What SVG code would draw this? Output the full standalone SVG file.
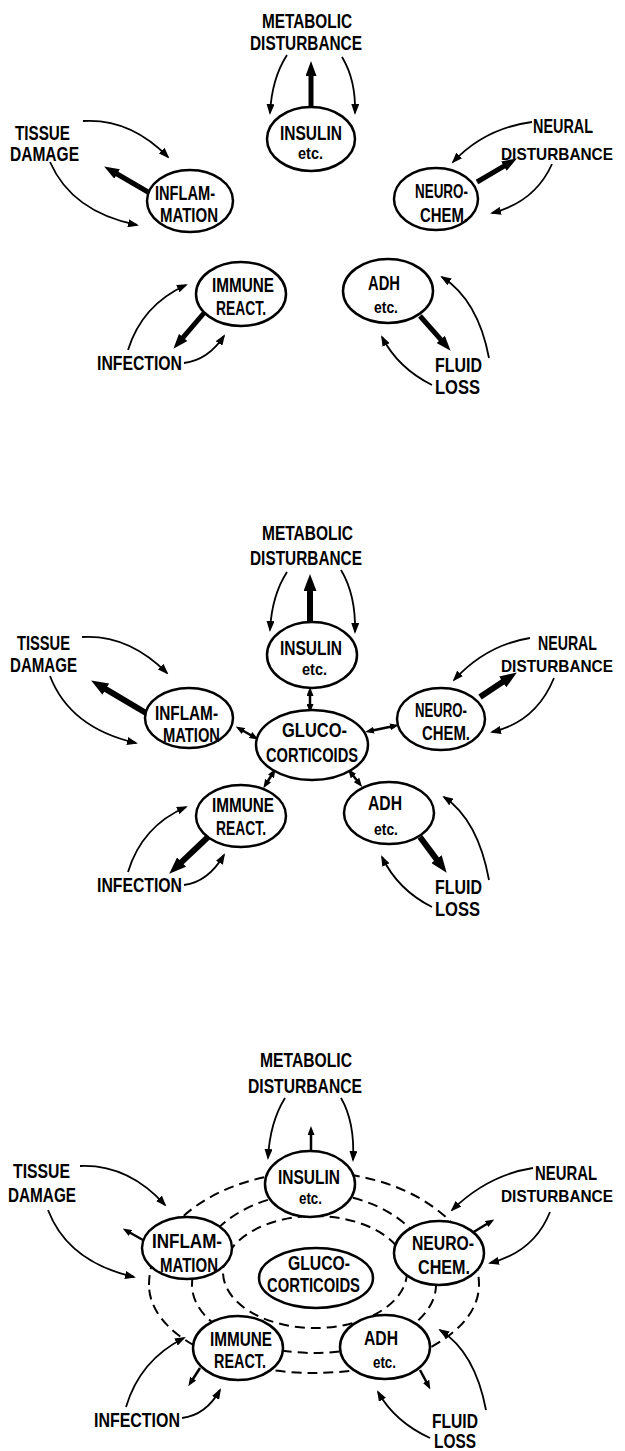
<svg xmlns="http://www.w3.org/2000/svg" width="625" height="1451" viewBox="0 0 625 1451">
<style>
.t{font-family:"Liberation Sans",Arial,sans-serif;font-weight:bold;font-size:20px;fill:#000}
.s{font-family:"Liberation Sans",Arial,sans-serif;font-weight:bold;font-size:16px;fill:#000}
.re{text-anchor:end}
.nr{font-size:17px}
.n{fill:#fff;stroke:#000;stroke-width:2.5}
.a{fill:none;stroke:#000;stroke-width:1.8;marker-end:url(#ah)}
.k{fill:none;stroke:#000;stroke-width:5;marker-end:url(#big)}
.k2{fill:none;stroke:#000;stroke-width:6;marker-end:url(#big2)}
.d{fill:none;stroke:#000;stroke-width:2.5;marker-start:url(#sm);marker-end:url(#sm)}
.e{fill:none;stroke:#000;stroke-width:2.5;marker-end:url(#sm)}
.r{fill:none;stroke:#000;stroke-width:2;stroke-dasharray:10 6}
</style>
<defs>
<marker id="ah" viewBox="0 0 11 8" markerWidth="11" markerHeight="8" refX="9" refY="4" orient="auto" markerUnits="userSpaceOnUse"><path d="M0,0 L11,4 L0,8 z"/></marker>
<marker id="big" viewBox="0 0 15 11" markerWidth="15" markerHeight="11" refX="3" refY="5.5" orient="auto" markerUnits="userSpaceOnUse"><path d="M0,0 L15,5.5 L0,11 z"/></marker>
<marker id="big2" viewBox="0 0 17 13" markerWidth="17" markerHeight="13" refX="3" refY="6.5" orient="auto" markerUnits="userSpaceOnUse"><path d="M0,0 L17,6.5 L0,13 z"/></marker>
<marker id="sm" viewBox="0 0 9 7" markerWidth="9" markerHeight="7" refX="4" refY="3.5" orient="auto-start-reverse" markerUnits="userSpaceOnUse"><path d="M0,0 L9,3.5 L0,7 z"/></marker>
</defs>

<!-- ===== Panel 1 ===== -->
<g id="p1-connectors">
<path class="a" d="M287,55 Q272,78 270,113"/>
<path class="a" d="M342,57 Q356,80 355,113"/>
<path class="a" d="M83,121 Q130,118 168,157"/>
<path class="a" d="M50,162 Q72,212 137,225"/>
<path class="a" d="M532,122 Q485,128 453,162"/>
<path class="a" d="M552,164 Q535,202 492,213"/>
<path class="a" d="M128,350 Q142,305 186,285"/>
<path class="a" d="M184,363 Q208,360 224,336"/>
<path class="a" d="M489,358 Q478,300 442,277"/>
<path class="a" d="M432,385 Q398,368 382,337"/>
<path class="k" d="M311,107 L311,73"/>
<path class="k" d="M148,192 L114.5,172.5"/>
<path class="k" d="M477,182 L506.5,164.6"/>
<path class="k" d="M204,313 L181.2,339.7"/>
<path class="k" d="M420,316 L442.7,341.7"/>
</g>
<g id="p1-metabolic"><text class="t" x="262" y="28" textLength="90" lengthAdjust="spacingAndGlyphs">METABOLIC</text><text class="t" x="250" y="50" textLength="112" lengthAdjust="spacingAndGlyphs">DISTURBANCE</text></g>
<g id="p1-tissue"><text class="t" x="15" y="140" textLength="55" lengthAdjust="spacingAndGlyphs">TISSUE</text><text class="t" x="10" y="161" textLength="69" lengthAdjust="spacingAndGlyphs">DAMAGE</text></g>
<g id="p1-neural"><text class="t re" x="593" y="133" textLength="60" lengthAdjust="spacingAndGlyphs">NEURAL</text><text class="t re nr" x="613" y="160" textLength="112" lengthAdjust="spacingAndGlyphs">DISTURBANCE</text></g>
<g id="p1-infection"><text class="t" x="97" y="370" textLength="85" lengthAdjust="spacingAndGlyphs">INFECTION</text></g>
<g id="p1-fluid"><text class="t" x="435" y="372" textLength="47" lengthAdjust="spacingAndGlyphs">FLUID</text><text class="t" x="435" y="394" textLength="45" lengthAdjust="spacingAndGlyphs">LOSS</text></g>
<g id="p1-insulin"><ellipse class="n" cx="311" cy="139" rx="44" ry="32"/><text class="t" x="280" y="140" textLength="62" lengthAdjust="spacingAndGlyphs">INSULIN</text><text class="s" x="298" y="159" textLength="25" lengthAdjust="spacingAndGlyphs">etc.</text></g>
<g id="p1-inflammation"><ellipse class="n" cx="190" cy="201" rx="43" ry="31"/><text class="t" x="155" y="200" textLength="60" lengthAdjust="spacingAndGlyphs">INFLAM-</text><text class="t" x="160" y="222" textLength="58" lengthAdjust="spacingAndGlyphs">MATION</text></g>
<g id="p1-neurochem"><ellipse class="n" cx="436" cy="199" rx="42" ry="31"/><text class="t" x="415" y="198" textLength="53" lengthAdjust="spacingAndGlyphs">NEURO-</text><text class="t" x="420" y="222" textLength="48" lengthAdjust="spacingAndGlyphs">CHEM.</text></g>
<g id="p1-immune"><ellipse class="n" cx="241" cy="294" rx="45" ry="32"/><text class="t" x="212" y="292" textLength="62" lengthAdjust="spacingAndGlyphs">IMMUNE</text><text class="t" x="216" y="315" textLength="50" lengthAdjust="spacingAndGlyphs">REACT.</text></g>
<g id="p1-adh"><ellipse class="n" cx="388" cy="291" rx="45" ry="32"/><text class="t" x="368" y="290" textLength="32" lengthAdjust="spacingAndGlyphs">ADH</text><text class="s" x="374" y="313" textLength="24" lengthAdjust="spacingAndGlyphs">etc.</text></g>

<!-- ===== Panel 2 ===== -->
<g id="p2-connectors">
<path class="a" d="M287,572 Q272,595 270,630"/>
<path class="a" d="M341,570 Q356,595 355,632"/>
<path class="a" d="M82,637 Q128,634 167,673"/>
<path class="a" d="M50,676 Q70,728 136,743"/>
<path class="a" d="M530,638 Q486,645 454,680"/>
<path class="a" d="M554,678 Q536,722 492,732"/>
<path class="a" d="M128,872 Q142,826 186,807"/>
<path class="a" d="M184,885 Q208,882 224,855"/>
<path class="a" d="M489,880 Q478,820 444,797"/>
<path class="a" d="M432,907 Q398,890 382,857"/>
<path class="k2" d="M310,622 L310,588"/>
<path class="k2" d="M146,713 L103.2,687.6"/>
<path class="k2" d="M480,697 L505.2,680.2"/>
<path class="k2" d="M208,837 L179.4,864.1"/>
<path class="k2" d="M420,837 L438.3,861.6"/>
<path class="d" d="M310,692 L310,708"/>
<path class="d" d="M254,737 L240,729"/>
<path class="d" d="M370,731 L394,726"/>
<path class="d" d="M273,773 L266,784"/>
<path class="d" d="M351,773 L359,783"/>
</g>
<g id="p2-metabolic"><text class="t" x="262" y="540" textLength="91" lengthAdjust="spacingAndGlyphs">METABOLIC</text><text class="t" x="250" y="565" textLength="112" lengthAdjust="spacingAndGlyphs">DISTURBANCE</text></g>
<g id="p2-tissue"><text class="t" x="17" y="650" textLength="53" lengthAdjust="spacingAndGlyphs">TISSUE</text><text class="t" x="10" y="672" textLength="67" lengthAdjust="spacingAndGlyphs">DAMAGE</text></g>
<g id="p2-neural"><text class="t re" x="597" y="650" textLength="59" lengthAdjust="spacingAndGlyphs">NEURAL</text><text class="t re nr" x="613" y="672" textLength="112" lengthAdjust="spacingAndGlyphs">DISTURBANCE</text></g>
<g id="p2-infection"><text class="t" x="97" y="892" textLength="85" lengthAdjust="spacingAndGlyphs">INFECTION</text></g>
<g id="p2-fluid"><text class="t" x="435" y="894" textLength="47" lengthAdjust="spacingAndGlyphs">FLUID</text><text class="t" x="435" y="916" textLength="45" lengthAdjust="spacingAndGlyphs">LOSS</text></g>
<g id="p2-insulin"><ellipse class="n" cx="312" cy="655" rx="45" ry="33"/><text class="t" x="280" y="655" textLength="62" lengthAdjust="spacingAndGlyphs">INSULIN</text><text class="s" x="302" y="675" textLength="25" lengthAdjust="spacingAndGlyphs">etc.</text></g>
<g id="p2-inflammation"><ellipse class="n" cx="189" cy="718" rx="44" ry="30"/><text class="t" x="155" y="720" textLength="63" lengthAdjust="spacingAndGlyphs">INFLAM-</text><text class="t" x="163" y="742" textLength="57" lengthAdjust="spacingAndGlyphs">MATION</text></g>
<g id="p2-neurochem"><ellipse class="n" cx="441" cy="719" rx="44" ry="31"/><text class="t" x="415" y="717" textLength="52" lengthAdjust="spacingAndGlyphs">NEURO-</text><text class="t" x="422" y="740" textLength="48" lengthAdjust="spacingAndGlyphs">CHEM.</text></g>
<g id="p2-gluco"><ellipse class="n" cx="312" cy="745" rx="56" ry="35"/><text class="t" x="282" y="737" textLength="65" lengthAdjust="spacingAndGlyphs">GLUCO-</text><text class="t" x="266" y="762" textLength="92" lengthAdjust="spacingAndGlyphs">CORTICOIDS</text></g>
<g id="p2-immune"><ellipse class="n" cx="241" cy="816" rx="45" ry="31"/><text class="t" x="212" y="812" textLength="62" lengthAdjust="spacingAndGlyphs">IMMUNE</text><text class="t" x="216" y="835" textLength="50" lengthAdjust="spacingAndGlyphs">REACT.</text></g>
<g id="p2-adh"><ellipse class="n" cx="389" cy="813" rx="45" ry="31"/><text class="t" x="368" y="810" textLength="34" lengthAdjust="spacingAndGlyphs">ADH</text><text class="s" x="374" y="835" textLength="24" lengthAdjust="spacingAndGlyphs">etc.</text></g>

<!-- ===== Panel 3 ===== -->
<g id="p3-rings">
<path class="r" d="M149,1285 A165,113 0 0 1 479,1285 A165,88 0 0 1 149,1285 Z"/>
<path class="r" d="M192,1285 A122,92 0 0 1 436,1285 A122,68 0 0 1 192,1285 Z"/>
<ellipse class="r" cx="315" cy="1272" rx="92" ry="56"/>
</g>
<g id="p3-connectors">
<path class="a" d="M285,1098 Q270,1122 268,1158"/>
<path class="a" d="M341,1098 Q355,1122 353,1160"/>
<path class="a" d="M80,1166 Q128,1164 165,1205"/>
<path class="a" d="M48,1210 Q68,1262 134,1277"/>
<path class="a" d="M533,1168 Q488,1175 452,1210"/>
<path class="a" d="M550,1212 Q534,1252 490,1263"/>
<path class="a" d="M126,1407 Q140,1360 184,1338"/>
<path class="a" d="M182,1418 Q206,1415 220,1390"/>
<path class="a" d="M486,1410 Q475,1352 440,1330"/>
<path class="a" d="M430,1438 Q395,1422 378,1392"/>
<path class="e" d="M311,1152 L311,1131"/>
<path class="e" d="M143,1240 L127,1231"/>
<path class="e" d="M472,1233 L490,1222"/>
<path class="e" d="M200,1368 L191,1382"/>
<path class="e" d="M420,1370 L428,1385"/>
</g>
<g id="p3-metabolic"><text class="t" x="260" y="1067" textLength="92" lengthAdjust="spacingAndGlyphs">METABOLIC</text><text class="t" x="248" y="1093" textLength="114" lengthAdjust="spacingAndGlyphs">DISTURBANCE</text></g>
<g id="p3-tissue"><text class="t" x="13" y="1178" textLength="57" lengthAdjust="spacingAndGlyphs">TISSUE</text><text class="t" x="8" y="1202" textLength="68" lengthAdjust="spacingAndGlyphs">DAMAGE</text></g>
<g id="p3-neural"><text class="t re" x="597" y="1180" textLength="62" lengthAdjust="spacingAndGlyphs">NEURAL</text><text class="t re nr" x="613" y="1202" textLength="112" lengthAdjust="spacingAndGlyphs">DISTURBANCE</text></g>
<g id="p3-infection"><text class="t" x="94" y="1427" textLength="86" lengthAdjust="spacingAndGlyphs">INFECTION</text></g>
<g id="p3-fluid"><text class="t" x="432" y="1428" textLength="46" lengthAdjust="spacingAndGlyphs">FLUID</text><text class="t" x="434" y="1448" textLength="42" lengthAdjust="spacingAndGlyphs">LOSS</text></g>
<g id="p3-insulin"><ellipse class="n" cx="310" cy="1184" rx="45" ry="33"/><text class="t" x="278" y="1184" textLength="62" lengthAdjust="spacingAndGlyphs">INSULIN</text><text class="s" x="299" y="1204" textLength="23" lengthAdjust="spacingAndGlyphs">etc.</text></g>
<g id="p3-inflammation"><ellipse class="n" cx="187" cy="1248" rx="45" ry="31"/><text class="t" x="152" y="1248" textLength="70" lengthAdjust="spacingAndGlyphs">INFLAM-</text><text class="t" x="160" y="1272" textLength="58" lengthAdjust="spacingAndGlyphs">MATION</text></g>
<g id="p3-neurochem"><ellipse class="n" cx="439" cy="1253" rx="45" ry="32"/><text class="t" x="412" y="1250" textLength="62" lengthAdjust="spacingAndGlyphs">NEURO-</text><text class="t" x="418" y="1274" textLength="52" lengthAdjust="spacingAndGlyphs">CHEM.</text></g>
<g id="p3-gluco"><ellipse class="n" cx="316" cy="1278" rx="57" ry="30"/><text class="t" x="288" y="1270" textLength="62" lengthAdjust="spacingAndGlyphs">GLUCO-</text><text class="t" x="267" y="1292" textLength="93" lengthAdjust="spacingAndGlyphs">CORTICOIDS</text></g>
<g id="p3-immune"><ellipse class="n" cx="238" cy="1348" rx="45" ry="32"/><text class="t" x="210" y="1346" textLength="62" lengthAdjust="spacingAndGlyphs">IMMUNE</text><text class="t" x="214" y="1368" textLength="52" lengthAdjust="spacingAndGlyphs">REACT.</text></g>
<g id="p3-adh"><ellipse class="n" cx="385" cy="1347" rx="45" ry="32"/><text class="t" x="364" y="1345" textLength="34" lengthAdjust="spacingAndGlyphs">ADH</text><text class="s" x="373" y="1368" textLength="23" lengthAdjust="spacingAndGlyphs">etc.</text></g>
</svg>
